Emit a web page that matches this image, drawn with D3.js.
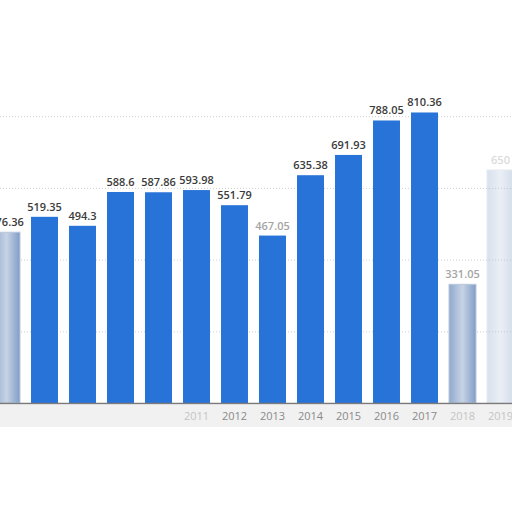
<!DOCTYPE html>
<html>
<head>
<meta charset="utf-8">
<script src="https://cdn.jsdelivr.net/npm/d3@7"></script>
<style>
  body { margin: 0; background: #fff; }
  svg { display: block; }
</style>
</head>
<body>
<script>
// data
var years = [2006, 2007, 2008, 2009, 2010, 2011, 2012, 2013, 2014, 2015, 2016, 2017, 2018, 2019];
var values = [476.36, 519.35, 494.3, 588.6, 587.86, 593.98, 551.79, 467.05, 635.38, 691.93, 788.05, 810.36, 331.05, 650];
var yTicks = [200, 400, 600, 800];

var width = 512, height = 512;
var baseY = 403;
var topY = 403 - 1000 * 0.3585;

// bars that look washed out in the picture
var faded = { 2006: 1, 2018: 1, 2019: 1 };
var dimLabel = { 2013: 1, 2018: 1, 2019: 1 };

var svg = d3.select("body").append("svg")
	.attr("width", width)
	.attr("height", height);

var x = d3.scaleBand()
	.domain(years)
	.range([-12.5, -12.5 + years.length * 38])
	.paddingInner(0.29)
	.paddingOuter(0.145);

var y = d3.scaleLinear()
	.domain([0, 1000])
	.range([baseY, topY]);

var defs = svg.append("defs");
var grad = defs.append("linearGradient")
	.attr("id", "fade")
	.attr("x1", 0).attr("x2", 1).attr("y1", 0).attr("y2", 0);
grad.append("stop").attr("offset", "0%").attr("stop-color", "#8fa9cf");
grad.append("stop").attr("offset", "50%").attr("stop-color", "#c7d3e4");
grad.append("stop").attr("offset", "100%").attr("stop-color", "#7f9dc9");

// light band behind the year labels
svg.append("rect")
	.attr("x", 0).attr("y", baseY + 2)
	.attr("width", width).attr("height", 22)
	.attr("fill", "#f1f1f1");

// dotted gridlines
svg.selectAll("line.grid")
	.data(yTicks)
	.enter()
	.append("line")
	.attr("class", "grid")
	.attr("x1", 0).attr("x2", width)
	.attr("y1", function(d) { return y(d) + 0.5; })
	.attr("y2", function(d) { return y(d) + 0.5; })
	.attr("stroke", "#cfcfcf")
	.attr("stroke-dasharray", "1,2");

svg.selectAll("rect.bar")
	.data(years)
	.enter()
	.append("rect")
	.attr("class", "bar")
	.attr("x", function(d) { return x(d); })
	.attr("y", function(d, i) { return y(values[i]); })
	.attr("width", x.bandwidth())
	.attr("height", function(d, i) { return baseY - y(values[i]); })
	.attr("fill", function(d) { return faded[d] ? "url(#fade)" : "#2873d8"; })
	.attr("stroke", function(d) { return faded[d] ? "#b9c6d9" : "none"; })
	.attr("opacity", function(d) { return d == 2019 ? 0.35 : 1; });

svg.selectAll("text.val")
	.data(years)
	.enter()
	.append("text")
	.attr("class", "val")
	.attr("x", function(d) { return x(d) + x.bandwidth() / 2; })
	.attr("y", function(d, i) { return y(values[i]) - 6; })
	.attr("text-anchor", "middle")
	.attr("font-family", "Open Sans, sans-serif")
	.attr("font-size", "11px")
	.attr("font-weight", 600)
	.attr("fill", function(d) { return dimLabel[d] ? "#a5a5a5" : "#3b3b3b"; })
	.attr("opacity", function(d) { return d == 2019 ? 0.4 : 1; })
	.text(function(d, i) { return String(values[i]); });

var axis = d3.axisBottom(x).tickSize(0).tickPadding(9);
var gx = svg.append("g")
	.attr("transform", "translate(0," + baseY + ")")
	.call(axis);
gx.select(".domain")
	.attr("d", "M0,0.5H" + width)
	.attr("stroke", "#7a7a7a")
	.attr("stroke-width", 1.5);
gx.selectAll("text")
	.attr("font-family", "Open Sans, sans-serif")
	.attr("font-size", "11px")
	.attr("fill", function(d) { return d < 2011 ? "#f1f1f1" : (d == 2011 || d > 2017 ? "#c4c4c4" : "#8a8a8a"); });
</script>
</body>
</html>
